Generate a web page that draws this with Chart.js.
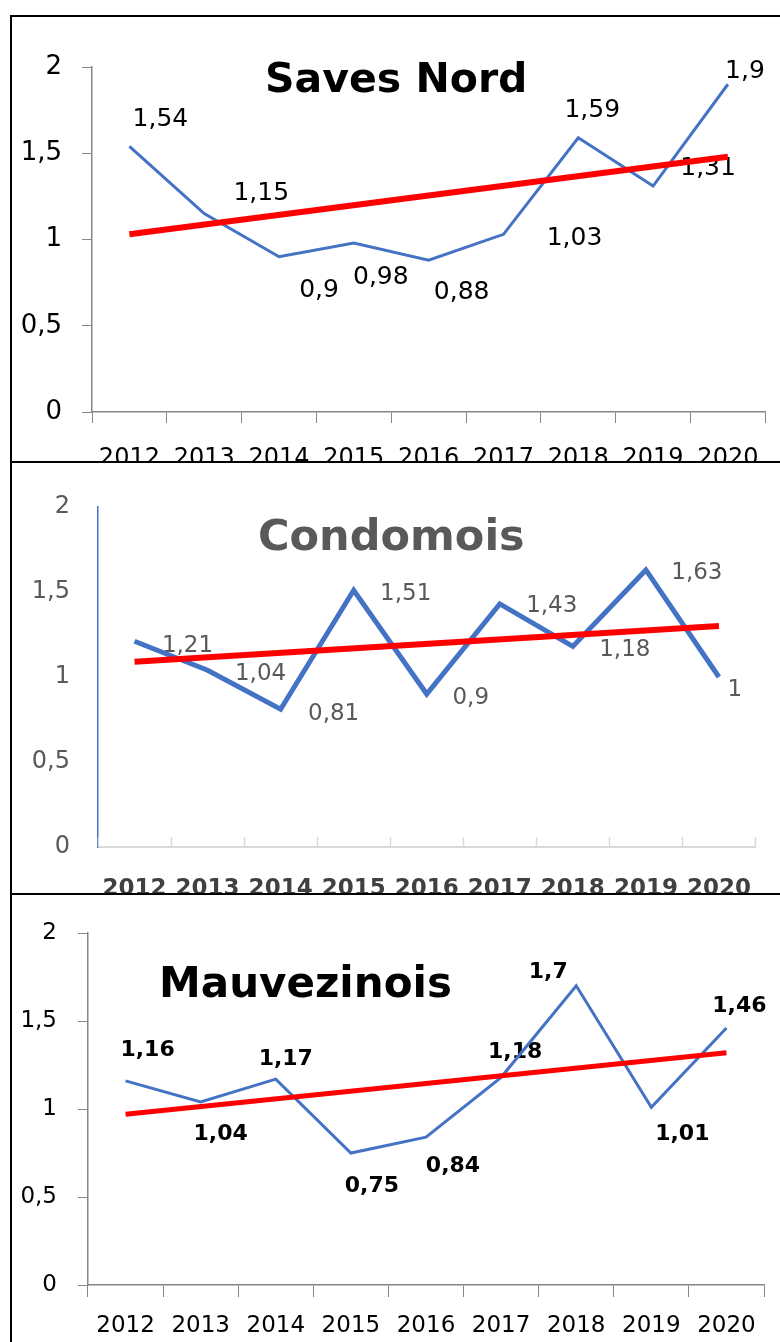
<!DOCTYPE html>
<html>
<head>
<meta charset="utf-8">
<script src="https://cdn.jsdelivr.net/npm/chart.js@4.4.1/dist/chart.umd.min.js"></script>
<style>
  html, body { margin: 0; padding: 0; background: #fff; }
  body { position: relative; width: 780px; height: 1342px; overflow: hidden; }
  .box { position: absolute; left: 10px; width: 800px; border: 2px solid #000; background: #fff; box-sizing: border-box; }
  canvas { position: absolute; left: 10px; }
  .title { position: absolute; font-family: 'DejaVu Sans'; font-weight: bold; line-height: 1; white-space: nowrap; }
</style>
</head>
<body>
<div class="box" style="top:15px;height:448px"></div>
<canvas id="savesNordChart" width="770" height="475" style="top:15px"></canvas>
<div class="title" style="left:265px;top:58px;font-size:41px;color:#000">Saves Nord</div>

<div class="box" style="top:461px;height:435px"></div>
<canvas id="condomoisChart" width="770" height="445" style="top:461px"></canvas>
<div class="title" style="left:258px;top:514px;font-size:43px;color:#595959">Condomois</div>

<div class="box" style="top:893px;height:500px"></div>
<canvas id="mauvezinoisChart" width="770" height="449" style="top:893px"></canvas>
<div class="title" style="left:159px;top:962px;font-size:42px;color:#000">Mauvezinois</div>

<script>
// Data
const years = ['2012', '2013', '2014', '2015', '2016', '2017', '2018', '2019', '2020'];
const yTicks = [0, 0.5, 1, 1.5, 2];

const savesNord = [1.54, 1.15, 0.9, 0.98, 0.88, 1.03, 1.59, 1.31, 1.9];
const savesNordTrend = [1.03, null, null, null, null, null, null, null, 1.48];

const condomois = [1.21, 1.04, 0.81, 1.51, 0.9, 1.43, 1.18, 1.63, 1];
const condomoisTrend = [1.09, null, null, null, null, null, null, null, 1.30];

const mauvezinois = [1.16, 1.04, 1.17, 0.75, 0.84, 1.18, 1.7, 1.01, 1.46];
const mauvezinoisTrend = [0.97, null, null, null, null, null, null, null, 1.32];

Chart.defaults.font.family = "'DejaVu Sans'";

const fmt = v => String(v).replace('.', ',');

function buildPanel(id, p) {
    // data labels, drawn under the lines like in the original
    const valueLabels = {
        id: 'valueLabels',
        beforeDatasetsDraw(chart) {
            const ctx = chart.ctx;
            const meta = chart.getDatasetMeta(1);
            ctx.save();
            ctx.font = (p.labelBold ? 'bold ' : '') + p.labelSize + "px 'DejaVu Sans'";
            ctx.fillStyle = p.labelColor;
            ctx.textAlign = 'center';
            ctx.textBaseline = 'alphabetic';
            meta.data.forEach((pt, i) => {
                const off = p.labelOffsets[i];
                ctx.fillText(fmt(p.values[i]), pt.x + off[0], pt.y + off[1] + p.labelSize * 0.364);
            });
            ctx.restore();
        }
    };

    // small tick marks pointing up from the x axis (Condomois panel)
    const upTicks = {
        id: 'upTicks',
        beforeDatasetsDraw(chart) {
            if (!p.upTick) return;
            const xs = chart.scales.x;
            const half = (xs.getPixelForValue(1) - xs.getPixelForValue(0)) / 2;
            const ctx = chart.ctx;
            ctx.save();
            ctx.strokeStyle = p.xAxisColor;
            ctx.lineWidth = 1.5;
            for (let i = 0; i <= years.length; i++) {
                const x = Math.round(xs.getPixelForValue(0) - half + i * half * 2) + 0.5;
                ctx.beginPath();
                ctx.moveTo(x, xs.top);
                ctx.lineTo(x, xs.top - p.upTick);
                ctx.stroke();
            }
            ctx.restore();
        }
    };

    return new Chart(document.getElementById(id), {
        type: 'line',
        data: {
            labels: years,
            datasets: [{
                data: p.trend,
                borderColor: '#FF0000',
                borderWidth: p.trendWidth,
                spanGaps: true,
                pointRadius: 0,
                order: 0
            }, {
                data: p.values,
                borderColor: '#4472C4',
                borderWidth: p.lineWidth,
                pointRadius: 0,
                tension: 0,
                order: 1
            }]
        },
        options: {
            responsive: false,
            animation: false,
            events: [],
            layout: {
                padding: { left: 0, top: p.top, right: p.right, bottom: 0 }
            },
            plugins: {
                legend: { display: false },
                tooltip: { enabled: false },
                title: { display: false }
            },
            scales: {
                x: {
                    offset: true,
                    grid: {
                        offset: true,
                        drawOnChartArea: false,
                        drawTicks: p.xTickLen > 0,
                        tickLength: p.xTickLen,
                        color: p.xAxisColor
                    },
                    border: { color: p.xAxisColor, width: p.xAxisWidth },
                    ticks: {
                        font: { size: p.xSize, weight: p.xBold ? 'bold' : 'normal' },
                        color: p.xColor,
                        padding: p.xPad,
                        maxRotation: 0,
                        autoSkip: false
                    },
                    afterFit: s => { s.height = p.xHeight; }
                },
                y: {
                    min: 0,
                    max: 2,
                    afterBuildTicks: s => { s.ticks = yTicks.map(v => ({ value: v })); },
                    grid: {
                        drawOnChartArea: false,
                        drawTicks: p.yTickLen > 0,
                        tickLength: p.yTickLen,
                        color: p.yAxisColor
                    },
                    border: { color: p.yAxisColor, width: p.yAxisWidth },
                    ticks: {
                        callback: v => fmt(v),
                        font: { size: p.ySize },
                        color: p.yColor,
                        padding: p.yPad
                    },
                    afterFit: s => { s.width = p.left; }
                }
            }
        },
        plugins: [upTicks, valueLabels]
    });
}

buildPanel('savesNordChart', {
    values: savesNord, trend: savesNordTrend,
    lineWidth: 3, trendWidth: 6,
    left: 82, top: 52, right: 10, xHeight: 78,
    xAxisColor: '#868686', xAxisWidth: 1.5, xTickLen: 11, xSize: 24, xColor: '#000', xPad: 21,
    yAxisColor: '#868686', yAxisWidth: 1.5, yTickLen: 10, ySize: 26, yColor: '#000', yPad: 20,
    labelSize: 25, labelColor: '#000', labelBold: false,
    labelOffsets: [[31, -29], [57, -23], [40, 31], [27, 32], [33, 30], [71, 2], [14, -30], [55, -20], [17, -15]]
});

buildPanel('condomoisChart', {
    values: condomois, trend: condomoisTrend,
    lineWidth: 5, trendWidth: 6,
    left: 88, top: 46, right: 19, xHeight: 59, upTick: 10,
    xAxisColor: '#d9d9d9', xAxisWidth: 2, xTickLen: 0, xSize: 23, xBold: true, xColor: '#404040', xPad: 28,
    yAxisColor: '#4472C4', yAxisWidth: 1.5, yTickLen: 0, ySize: 24, yColor: '#595959', yPad: 28,
    labelSize: 23, labelColor: '#595959', labelBold: false,
    labelOffsets: [[53, 2], [53, 1], [53, 2], [52, 1], [44, 2], [52, 0], [52, 1], [51, 1], [16, 11]]
});

buildPanel('mauvezinoisChart', {
    values: mauvezinois, trend: mauvezinoisTrend,
    lineWidth: 3, trendWidth: 5,
    left: 78, top: 40, right: 16, xHeight: 57,
    xAxisColor: '#868686', xAxisWidth: 1.5, xTickLen: 12, xSize: 23, xColor: '#000', xPad: 15,
    yAxisColor: '#868686', yAxisWidth: 1.5, yTickLen: 10, ySize: 23, yColor: '#000', yPad: 21,
    labelSize: 22, labelColor: '#000', labelBold: true,
    labelOffsets: [[22, -33], [20, 30], [10, -22], [21, 31], [27, 27], [14, -27], [-28, -16], [31, 25], [13, -24]]
});
</script>
</body>
</html>
